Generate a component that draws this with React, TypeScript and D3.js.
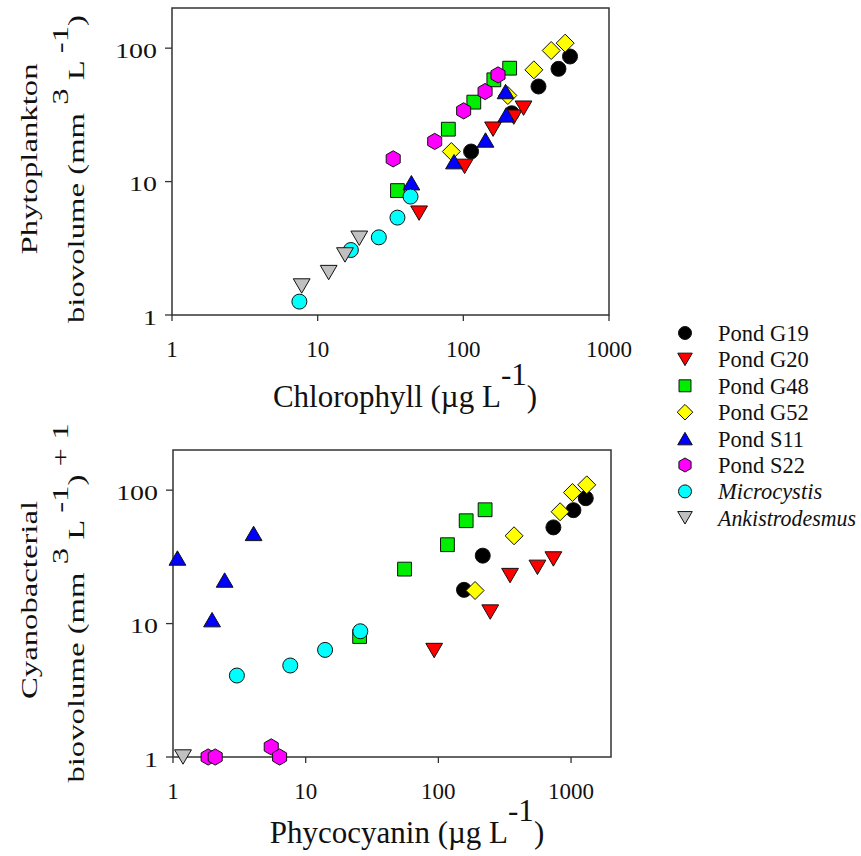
import React from "react";
import * as d3 from "d3";

// ---------- DATA ----------
const seriesNames = ["Pond G19", "Pond G20", "Pond G48", "Pond G52", "Pond S11", "Pond S22", "Microcystis", "Ankistrodesmus"];
const seriesItalic = [false, false, false, false, false, false, true, true];
const seriesColors = ["#000000", "#ff0000", "#00ee00", "#ffff00", "#0000ff", "#ff00ff", "#00ffff", "#c0c0c0"];
const seriesShapes = ["circle", "triangleDown", "square", "diamond", "triangleUp", "hexagon", "circle", "triangleDown"];

// Top panel: chlorophyll (µg/L) vs phytoplankton biovolume (mm3/L)
const g19Chl = [113, 215, 328, 450, 540];
const g19Bio = [16.8, 32.5, 51.6, 70, 86.6];
const g20Chl = [49.7, 102, 160, 222, 259];
const g20Bio = [5.8, 13, 24.7, 30.4, 35.5];
const g48Chl = [35.3, 78.9, 118, 162, 208];
const g48Bio = [8.56, 24.7, 39.4, 57.9, 70.8];
const g52Chl = [82.7, 202, 305, 401, 500];
const g52Bio = [16.8, 44.2, 68.8, 96, 109];
const s11Chl = [44, 86.3, 142, 197, 195];
const s11Bio = [9.8, 14.1, 20.5, 31.6, 47.3];
const s22Chl = [33, 63.6, 100.5, 141, 173];
const s22Bio = [14.8, 20, 33.9, 47.3, 63];
const micChl = [7.49, 16.9, 26.3, 35.3, 43.4];
const micBio = [1.26, 3.07, 3.82, 5.37, 7.72];
const ankChl = [7.77, 11.9, 15.4, 19.3];
const ankBio = [1.65, 2.08, 2.82, 3.76];

// Bottom panel: phycocyanin (µg/L) vs cyanobacterial biovolume + 1
const g19Pc = [156, 216, 736, 1042, 1291];
const g19Cy = [17.9, 32.3, 52.6, 70.8, 87];
const g20Pc = [93, 246, 347, 558, 736];
const g20Cy = [6.28, 12.2, 22.9, 26.4, 30.5];
const g48Pc = [25.5, 55.6, 117, 162, 225];
const g48Cy = [8.0, 25.6, 39, 59, 71.3];
const g52Pc = [189, 372, 827, 1024, 1313];
const g52Cy = [17.7, 45.5, 68.9, 96, 109.6];
const s11Pc = [1.08, 1.97, 2.45, 4.05];
const s11Cy = [31, 10.7, 21.2, 47.4];
const s22Pc = [1.84, 2.08, 5.5, 6.36];
const s22Cy = [1, 1, 1.19, 1];
const micPc = [3.03, 7.65, 14.0, 25.8];
const micCy = [4.08, 4.85, 6.35, 8.76];
const ankPc = [1.19];
const ankCy = [1];

const xTicks = [1, 10, 100, 1000];
const yTicks = [1, 10, 100];

const topXs = [g19Chl, g20Chl, g48Chl, g52Chl, s11Chl, s22Chl, micChl, ankChl];
const topYs = [g19Bio, g20Bio, g48Bio, g52Bio, s11Bio, s22Bio, micBio, ankBio];
const botXs = [g19Pc, g20Pc, g48Pc, g52Pc, s11Pc, s22Pc, micPc, ankPc];
const botYs = [g19Cy, g20Cy, g48Cy, g52Cy, s11Cy, s22Cy, micCy, ankCy];

// ---------- MARKERS ----------
function markerPath(shape: string, s: number): string {
  const p = d3.path();
  if (shape === "circle") {
    p.arc(0, 0, s * 0.5, 0, Math.PI * 2);
    p.closePath();
  } else if (shape === "square") {
    const h = s * 0.46;
    p.rect(-h, -h, 2 * h, 2 * h);
  } else if (shape === "diamond") {
    const h = s * 0.6;
    p.moveTo(0, -h); p.lineTo(h, 0); p.lineTo(0, h); p.lineTo(-h, 0); p.closePath();
  } else if (shape === "triangleUp" || shape === "triangleDown") {
    const w = s * 0.56;
    const hh = s * 0.48;
    const sg = shape === "triangleUp" ? 1 : -1;
    p.moveTo(0, -hh * sg); p.lineTo(w, hh * sg); p.lineTo(-w, hh * sg); p.closePath();
  } else if (shape === "hexagon") {
    const r = s * 0.54;
    for (let i = 0; i < 6; i++) {
      const a = -Math.PI / 2 + (i * Math.PI) / 3;
      const x = r * Math.cos(a), y = r * Math.sin(a);
      if (i === 0) p.moveTo(x, y); else p.lineTo(x, y);
    }
    p.closePath();
  }
  return p.toString();
}

const FONT = "'Liberation Serif', 'Times New Roman', serif";

type PanelProps = {
  left: number; right: number; top: number; bottom: number;
  xMax: number; yMax: number;
  xs: number[][]; ys: number[][];
};

function Panel({ left, right, top, bottom, xMax, yMax, xs, ys }: PanelProps) {
  const x = d3.scaleLog().domain([1, xMax]).range([left, right]);
  const y = d3.scaleLog().domain([1, yMax]).range([bottom, top]);
  return (
    <g>
      <rect x={left} y={top} width={right - left} height={bottom - top} fill="none" stroke="#333" strokeWidth={1.5} />
      {xTicks.map((t) => (
        <g key={"xt" + t}>
          <line x1={x(t)} x2={x(t)} y1={bottom} y2={bottom + 6} stroke="#333" strokeWidth={1.3} />
          <text x={x(t)} y={bottom + 42} textAnchor="middle" fontSize={23} fontFamily={FONT} fill="#111">{String(t)}</text>
        </g>
      ))}
      {yTicks.map((t) => (
        <g key={"yt" + t}>
          <line x1={left - 7} x2={left} y1={y(t)} y2={y(t)} stroke="#333" strokeWidth={1.3} />
          <text transform={`translate(${left - 15},${y(t) + 2}) scale(1.27,1)`} dy="0.35em" textAnchor="end" fontSize={22} fontFamily={FONT} fill="#111">{String(t)}</text>
        </g>
      ))}
      {xs.map((sx, si) =>
        sx.map((vx, i) => (
          <path key={si + "-" + i}
            d={markerPath(seriesShapes[si], 15)}
            transform={`translate(${x(vx)},${y(ys[si][i])})`}
            fill={seriesColors[si]} stroke="#111" strokeWidth={1} />
        ))
      )}
    </g>
  );
}

export default function App() {
  const legendY0 = 333;
  const legendDy = 26.4;
  return (
    <svg width={861} height={856} style={{ position: "absolute", left: 0, top: 0, background: "#fff" }} fontFamily={FONT}>
      <rect x={0} y={0} width={861} height={856} fill="#fff" />
      <Panel left={172} right={609} top={8} bottom={315} xMax={1000} yMax={200} xs={topXs} ys={topYs} />
      <Panel left={173} right={611} top={450} bottom={757} xMax={2000} yMax={200} xs={botXs} ys={botYs} />

      {/* top axis titles */}
      <text x={405} y={407} textAnchor="middle" fontSize={31} fill="#111">
        Chlorophyll (µg L<tspan dy="-0.7em">-1</tspan><tspan dy="0.7em">)</tspan>
      </text>
      <text transform="translate(37,159) rotate(-90) scale(1.45,1)" textAnchor="middle" fontSize={22.6} fill="#111">Phytoplankton</text>
      <text transform="translate(84,169) rotate(-90) scale(1.45,1)" textAnchor="middle" fontSize={22.6} fill="#111">
        biovolume (mm <tspan dy="-0.7em">3</tspan><tspan dy="0.7em"> L </tspan><tspan dy="-0.7em">-1</tspan><tspan dy="0.7em">)</tspan>
      </text>

      {/* bottom axis titles */}
      <text x={407} y={843} textAnchor="middle" fontSize={31} fill="#111">
        Phycocyanin (µg L<tspan dy="-0.7em">-1</tspan><tspan dy="0.7em">)</tspan>
      </text>
      <text transform="translate(37,600) rotate(-90) scale(1.45,1)" textAnchor="middle" fontSize={22.6} fill="#111">Cyanobacterial</text>
      <text transform="translate(84,603) rotate(-90) scale(1.45,1)" textAnchor="middle" fontSize={22.6} fill="#111">
        biovolume (mm <tspan dy="-0.7em">3</tspan><tspan dy="0.7em"> L </tspan><tspan dy="-0.7em">-1</tspan><tspan dy="0.7em">) </tspan><tspan dy="-0.7em">+ 1</tspan>
      </text>

      {/* legend */}
      {seriesNames.map((n, i) => (
        <g key={n}>
          <path d={markerPath(seriesShapes[i], 13)} transform={`translate(685,${legendY0 + i * legendDy})`}
            fill={seriesColors[i]} stroke="#111" strokeWidth={1} />
          <text x={718} y={legendY0 + i * legendDy + 8} fontSize={22.5}
            fontStyle={seriesItalic[i] ? "italic" : "normal"}
            textLength={n.length > 12 ? 138 : undefined}
            lengthAdjust={n.length > 12 ? "spacingAndGlyphs" : undefined}
            fill="#111">{n}</text>
        </g>
      ))}
    </svg>
  );
}
